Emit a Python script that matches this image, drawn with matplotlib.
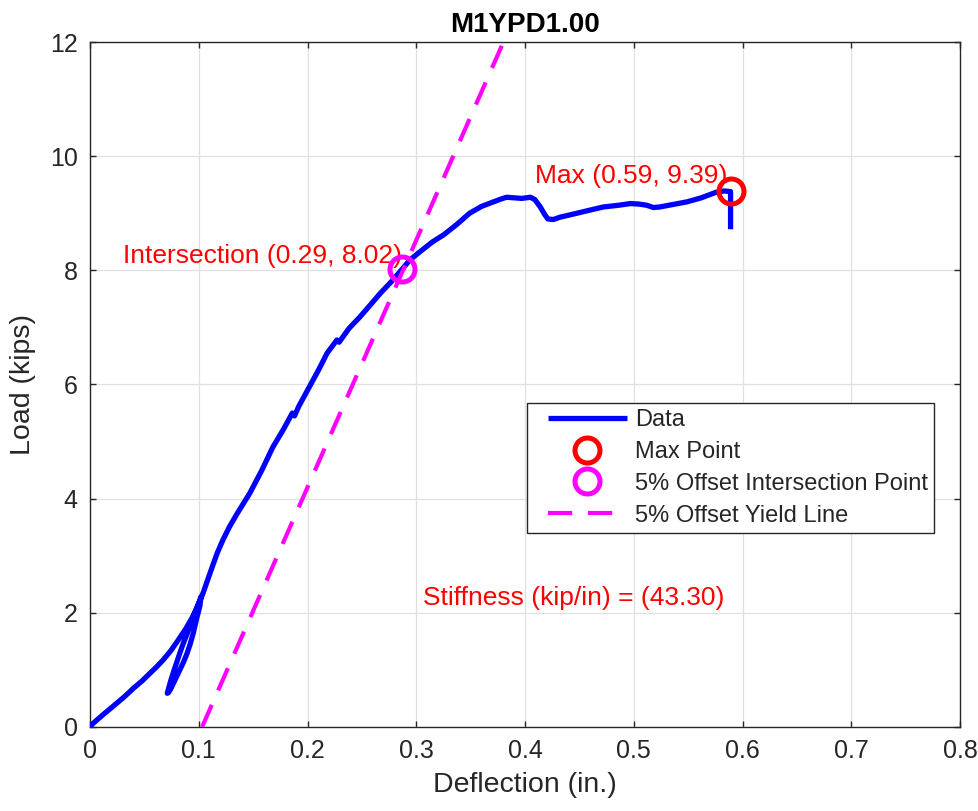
import numpy as np
import matplotlib
matplotlib.use('Agg')
import matplotlib.pyplot as plt
from matplotlib.lines import Line2D
from matplotlib.legend_handler import HandlerLine2D

plt.rcParams['font.family'] = ['Liberation Sans', 'DejaVu Sans']

# load-deflection record
deflection = [0.0, 0.002, 0.011, 0.021, 0.031, 0.040, 0.048, 0.055, 0.061, 0.067, 0.074, 0.081,
              0.088, 0.094, 0.099, 0.102,
              0.101, 0.098, 0.095, 0.092, 0.089, 0.086, 0.083, 0.080, 0.077, 0.074, 0.072, 0.071,
              0.072, 0.074, 0.077, 0.080, 0.083, 0.086, 0.089, 0.092, 0.095, 0.099, 0.104,
              0.108, 0.113, 0.117, 0.122, 0.128, 0.135, 0.147, 0.158, 0.168, 0.178, 0.186,
              0.188, 0.192, 0.200,
              0.210, 0.218, 0.227, 0.229, 0.238, 0.248, 0.258, 0.267, 0.277, 0.287, 0.294,
              0.303, 0.315, 0.325, 0.337, 0.349, 0.360, 0.371, 0.378, 0.383, 0.390, 0.397,
              0.405, 0.409, 0.414, 0.418, 0.421, 0.426, 0.432, 0.441, 0.452, 0.463, 0.472,
              0.486, 0.497, 0.505, 0.512, 0.518, 0.524, 0.535, 0.549, 0.562, 0.576, 0.583,
              0.589, 0.589]
load = [0.0, 0.05, 0.20, 0.36, 0.52, 0.68, 0.81, 0.94, 1.05, 1.17, 1.33, 1.52,
        1.72, 1.92, 2.12, 2.28,
        2.12, 1.90, 1.65, 1.45, 1.28, 1.14, 1.02, 0.90, 0.78, 0.66, 0.60, 0.59,
        0.66, 0.80, 0.98, 1.15, 1.32, 1.48, 1.62, 1.78, 1.93, 2.12, 2.35,
        2.57, 2.84, 3.05, 3.27, 3.50, 3.73, 4.10, 4.50, 4.90, 5.22, 5.50,
        5.45, 5.62, 5.90,
        6.25, 6.55, 6.78, 6.74, 6.98, 7.18, 7.40, 7.60, 7.80, 8.02, 8.18,
        8.32, 8.50, 8.62, 8.80, 9.00, 9.12, 9.20, 9.25, 9.28, 9.27, 9.26,
        9.28, 9.24, 9.11, 8.98, 8.90, 8.89, 8.93, 8.97, 9.02, 9.07, 9.11,
        9.14, 9.17, 9.16, 9.14, 9.10, 9.11, 9.15, 9.20, 9.27, 9.37, 9.39,
        9.38, 8.72]

max_pt = (0.589, 9.39)
inter_pt = (0.287, 8.02)
stiffness = 43.30
offset = 0.103

fs_tick = 18
fs_label = 20.5
fs_note = 19
txt_gray = '#262626'

fig = plt.figure(figsize=(9.79, 8.11), dpi=100)
ax = fig.add_axes([0.092, 0.1036, 0.8886, 0.8446])

ax.plot(deflection, load, color='b', lw=3.8, label='Data', zorder=3,
        solid_joinstyle='round', solid_capstyle='butt')
ax.plot(max_pt[0], max_pt[1], 'o', ms=18, mfc='none', mec='r', mew=3.6,
        label='Max Point', zorder=5)
ax.plot(inter_pt[0], inter_pt[1], 'o', ms=18, mfc='none', mec=(1, 0, 1), mew=3.6,
        label='5% Offset Intersection Point', zorder=5)
xl = np.array([offset, 0.45])
ax.plot(xl, stiffness * (xl - offset), '--', color=(1, 0, 1), lw=3.0,
        dashes=(5.8, 3.8), label='5% Offset Yield Line', zorder=4)

ax.text(max_pt[0] - 0.003, max_pt[1] + 0.05,
        'Max (%.2f, %.2f)' % (max_pt[0], max_pt[1]),
        color='r', fontsize=fs_note, ha='right', va='bottom')
ax.text(inter_pt[0], inter_pt[1] + 0.02,
        'Intersection (%.2f, %.2f)' % (inter_pt[0], inter_pt[1]),
        color='r', fontsize=fs_note, ha='right', va='bottom')
ax.text(0.306, 2.26, 'Stiffness (kip/in) = (%.2f)' % stiffness,
        color='r', fontsize=fs_note, ha='left', va='center')

ax.set_xlim(0, 0.8)
ax.set_ylim(0, 12)
ax.set_xticks(np.arange(0, 0.81, 0.1))
ax.set_xticklabels(['0', '0.1', '0.2', '0.3', '0.4', '0.5', '0.6', '0.7', '0.8'])
ax.set_yticks(range(0, 13, 2))
ax.grid(True, color='#e0e0e0', lw=0.9)
ax.set_axisbelow(True)
ax.tick_params(direction='in', length=4, width=1, top=True, right=True,
               colors=txt_gray, labelsize=fs_tick, pad=9)
for s in ax.spines.values():
    s.set_color(txt_gray)
    s.set_linewidth(1.0)

ax.set_xlabel('Deflection (in.)', fontsize=fs_label, color=txt_gray, labelpad=6)
ax.set_ylabel('Load (kips)', fontsize=fs_label, color=txt_gray, labelpad=10)
ax.set_title('M1YPD1.00', fontsize=20, fontweight='bold', color='k', pad=7)

leg = ax.legend(loc='upper left', bbox_to_anchor=(0.502, 0.473), borderaxespad=0,
                fontsize=17, handlelength=4.0, handletextpad=0.35, labelspacing=0.42,
                borderpad=0.25, fancybox=False, framealpha=1, edgecolor=txt_gray,
                handler_map={Line2D: HandlerLine2D(xpad=0.64)})
leg.get_frame().set_linewidth(1.0)
for t in leg.get_texts():
    t.set_color(txt_gray)

fig.savefig('out.png', dpi=100)
